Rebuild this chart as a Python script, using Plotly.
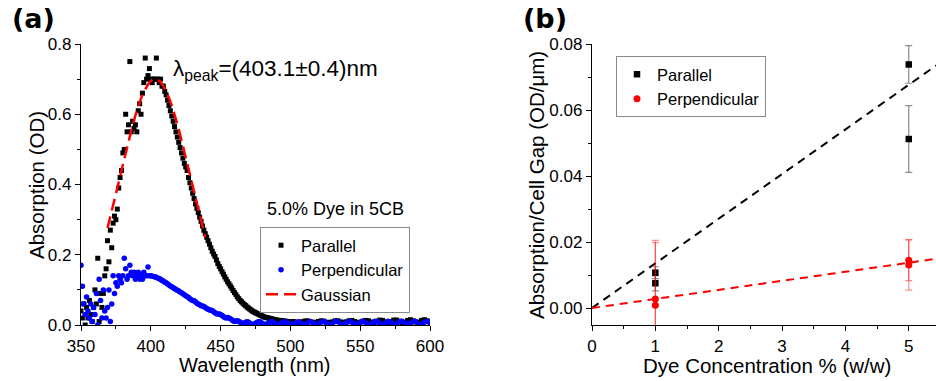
import plotly.graph_objects as go

# ---------------- Panel (a) data ----------------
wavelength = [350, 351, 352, 353, 354, 355, 356, 357, 358, 359, 360, 361, 362, 363, 364, 365, 366, 367, 368, 369,
              370, 371, 372, 373, 374, 375, 376, 377, 378, 379, 380, 381, 382, 383, 384, 385, 386, 387, 388, 389,
              390, 391, 392, 393, 394, 395, 396, 397, 398, 399, 400, 401, 402, 403, 404, 405, 406, 407, 408, 409,
              410, 411, 412, 413, 414, 415, 416, 417, 418, 419, 420, 421, 422, 423, 424, 425, 426, 427, 428, 429,
              430, 431, 432, 433, 434, 435, 436, 437, 438, 439, 440, 441, 442, 443, 444, 445, 446, 447, 448, 449,
              450, 451, 452, 453, 454, 455, 456, 457, 458, 459, 460, 461, 462, 463, 464, 465, 466, 467, 468, 469,
              470, 471, 472, 473, 474, 475, 476, 477, 478, 479, 480, 481, 482, 483, 484, 485, 486, 487, 488, 489,
              490, 491, 492, 493, 494, 495, 496, 497, 498, 499, 500,
              502, 504, 506, 508, 510, 512, 514, 516, 518, 520, 522, 524, 526, 528, 530, 532, 534, 536, 538, 540,
              542, 544, 546, 548, 550, 552, 554, 556, 558, 560, 562, 564, 566, 568, 570, 572, 574, 576, 578, 580,
              582, 584, 586, 588, 590, 592, 594, 596, 598, 600]

par_od = [0.04, 0.02, 0.06, 0.00, 0.05, 0.02, 0.07, 0.03, 0.01, 0.05, 0.10, 0.06, 0.19, 0.01, 0.09, 0.05, 0.09, 0.14, 0.16, 0.24,
          0.18, 0.27, 0.22, 0.29, 0.31, 0.30, 0.33, 0.39, 0.42, 0.44, 0.49, 0.50, 0.60, 0.55, 0.57, 0.75, 0.55, 0.58, 0.56, 0.57,
          0.55, 0.61, 0.63, 0.60, 0.66, 0.69, 0.76, 0.70, 0.71, 0.73, 0.70, 0.69, 0.70, 0.70, 0.76, 0.70, 0.69, 0.70, 0.68, 0.68,
          0.665, 0.655, 0.64, 0.625, 0.61, 0.595, 0.58, 0.565, 0.55, 0.535, 0.52, 0.505, 0.49, 0.475, 0.46, 0.45, 0.44, 0.42, 0.405, 0.39,
          0.375, 0.36, 0.345, 0.332, 0.32, 0.307, 0.295, 0.282, 0.27, 0.26, 0.25, 0.24, 0.23, 0.22, 0.21, 0.202, 0.195, 0.185, 0.175, 0.167,
          0.16, 0.152, 0.145, 0.137, 0.13, 0.123, 0.117, 0.111, 0.105, 0.098, 0.092, 0.086, 0.08, 0.075, 0.07, 0.066, 0.062, 0.058, 0.055, 0.051,
          0.048, 0.045, 0.042, 0.039, 0.037, 0.035, 0.033, 0.031, 0.029, 0.027, 0.025, 0.023, 0.022, 0.021, 0.020, 0.019, 0.018, 0.017, 0.016, 0.015,
          0.014, 0.0135, 0.013, 0.0125, 0.012, 0.0115, 0.011, 0.0105, 0.010, 0.0095, 0.009,
          0.010, 0.008, 0.007, 0.009, 0.011, 0.012, 0.010, 0.008, 0.007, 0.010, 0.012, 0.011, 0.008, 0.007, 0.009, 0.012, 0.012, 0.009, 0.007, 0.009,
          0.012, 0.013, 0.010, 0.007, 0.008, 0.011, 0.013, 0.012, 0.008, 0.007, 0.011, 0.014, 0.013, 0.009, 0.007, 0.010, 0.014, 0.014, 0.011, 0.007,
          0.008, 0.013, 0.015, 0.012, 0.008, 0.008, 0.013, 0.015, 0.012, 0.008]

perp_od = [0.17, 0.11, 0.06, 0.03, 0.08, 0.04, 0.02, 0.06, 0.01, 0.05, 0.03, 0.09, 0.00, 0.13, 0.07, 0.02, 0.10, 0.04, 0.02, 0.05,
           0.10, 0.01, 0.06, 0.14, 0.09, 0.12, 0.11, 0.14, 0.13, 0.12, 0.14, 0.19, 0.16, 0.13, 0.14, 0.17, 0.15, 0.14, 0.15, 0.13,
           0.14, 0.15, 0.13, 0.14, 0.13, 0.15, 0.14, 0.14, 0.165, 0.14, 0.14, 0.139, 0.138, 0.137, 0.136, 0.134, 0.132, 0.130, 0.127, 0.125,
           0.122, 0.120, 0.117, 0.114, 0.111, 0.109, 0.106, 0.104, 0.101, 0.099, 0.097, 0.094, 0.092, 0.089, 0.086, 0.083, 0.081, 0.078, 0.075, 0.072,
           0.070, 0.069, 0.066, 0.062, 0.060, 0.058, 0.055, 0.054, 0.053, 0.050, 0.047, 0.045, 0.043, 0.042, 0.041, 0.038, 0.035, 0.032, 0.031, 0.031,
           0.030, 0.027, 0.024, 0.021, 0.020, 0.021, 0.020, 0.018, 0.015, 0.012, 0.010, 0.011, 0.012, 0.011, 0.008, 0.005, 0.004, 0.006, 0.008, 0.009,
           0.008, 0.005, 0.002, 0.001, 0.002, 0.005, 0.007, 0.009, 0.009, 0.007, 0.004, 0.002, 0.001, 0.002, 0.005, 0.007, 0.009, 0.009, 0.007, 0.004,
           0.002, 0.001, 0.001, 0.004, 0.006, 0.008, 0.009, 0.008, 0.005, 0.002, 0.001,
           0.003, 0.008, 0.009, 0.004, 0.001, 0.005, 0.010, 0.007, 0.002, 0.002, 0.008, 0.010, 0.005, 0.001, 0.004, 0.010, 0.009, 0.003, 0.001, 0.006,
           0.011, 0.008, 0.002, 0.002, 0.008, 0.011, 0.006, 0.001, 0.004, 0.010, 0.010, 0.004, 0.001, 0.006, 0.011, 0.008, 0.002, 0.003, 0.009, 0.011,
           0.006, 0.001, 0.005, 0.011, 0.009, 0.003, 0.002, 0.008, 0.011, 0.007]

gauss_wl = [369, 371, 373, 375, 377, 379, 381, 383, 385, 387, 389, 391, 393, 395, 397, 399, 401, 403,
            405, 407, 409, 411, 413, 415, 417, 419, 421, 423, 425, 427, 429, 431, 433, 435, 437, 439]
gauss_od = [0.276, 0.307, 0.339, 0.372, 0.406, 0.440, 0.474, 0.507, 0.539, 0.569, 0.597, 0.623, 0.645, 0.664, 0.679, 0.691, 0.698, 0.700,
            0.698, 0.692, 0.681, 0.666, 0.647, 0.625, 0.600, 0.572, 0.542, 0.510, 0.477, 0.443, 0.409, 0.376, 0.342, 0.310, 0.279, 0.250]

# ---------------- Panel (b) data ----------------
conc_par = [1, 1, 5, 5]
abs_par = [0.0107, 0.0075, 0.0738, 0.0512]
err_par = [0.0018, 0.0023, 0.0057, 0.0101]
conc_perp = [1, 1, 5, 5]
abs_perp = [0.0027, 0.0008, 0.0145, 0.0130]
err_perp = [0.0178, 0.0190, 0.0062, 0.0076]
fit_conc = [0, 5.5]
fit_par = [0, 0.0744]
fit_perp = [0, 0.0151]

W, H = 936, 381
FONT = "Liberation Sans, Arial, sans-serif"


def px(x):
    return x / W


def py(y):
    return 1 - y / H


fig = go.Figure()

fig.add_trace(go.Scatter(x=wavelength, y=par_od, mode="markers", name="Parallel",
                         marker=dict(symbol="square", size=5, color="black"),
                         xaxis="x", yaxis="y", legend="legend"))
fig.add_trace(go.Scatter(x=wavelength, y=perp_od, mode="markers", name="Perpendicular",
                         marker=dict(symbol="circle", size=5.5, color="#0000FF"),
                         xaxis="x", yaxis="y", legend="legend"))
fig.add_trace(go.Scatter(x=gauss_wl, y=gauss_od, mode="lines", name="Gaussian",
                         line=dict(color="#FF0000", width=2.5, dash="12px,6px"),
                         xaxis="x", yaxis="y", legend="legend"))

fig.add_trace(go.Scatter(x=fit_conc, y=fit_par, mode="lines", showlegend=False,
                         line=dict(color="black", width=2, dash="8px,6px"),
                         xaxis="x2", yaxis="y2"))
fig.add_trace(go.Scatter(x=fit_conc, y=fit_perp, mode="lines", showlegend=False,
                         line=dict(color="#FF0000", width=2, dash="8px,6px"),
                         xaxis="x2", yaxis="y2"))
fig.add_trace(go.Scatter(x=conc_par, y=abs_par, mode="markers", name="Parallel",
                         marker=dict(symbol="square", size=6.5, color="black"),
                         error_y=dict(type="data", array=err_par, color="#8c8c8c", thickness=1.2, width=3.5),
                         xaxis="x2", yaxis="y2", legend="legend2"))
fig.add_trace(go.Scatter(x=conc_perp, y=abs_perp, mode="markers", name="Perpendicular",
                         marker=dict(symbol="circle", size=7, color="#FF0000"),
                         error_y=dict(type="data", array=err_perp, color="rgba(255,0,0,0.45)", thickness=1.2, width=3.5),
                         xaxis="x2", yaxis="y2", legend="legend2"))

axis_common = dict(showline=True, linecolor="black", linewidth=1.3, showgrid=False, zeroline=False,
                   ticks="outside", ticklen=5, tickwidth=1.2, tickcolor="black",
                   tickfont=dict(family=FONT, size=17, color="black"), automargin=False)

fig.update_layout(
    width=W, height=H,
    margin=dict(l=0, r=0, t=0, b=0),
    paper_bgcolor="white", plot_bgcolor="white",
    font=dict(family=FONT, color="black"),
    xaxis=dict(domain=[px(81), px(430)], range=[350, 600], dtick=50, anchor="y",
               minor=dict(dtick=25, ticks="outside", ticklen=3, tickcolor="black"), **axis_common),
    yaxis=dict(domain=[py(325), py(44)], range=[0, 0.8], dtick=0.2, tickformat=".1f", anchor="x",
               minor=dict(dtick=0.1, ticks="outside", ticklen=3, tickcolor="black"), **axis_common),
    xaxis2=dict(domain=[px(592), 1.0], range=[0, 5.43], dtick=1, anchor="y2",
                minor=dict(dtick=0.5, ticks="outside", ticklen=3, tickcolor="black"), **axis_common),
    yaxis2=dict(domain=[py(325), py(44)], range=[-0.00515, 0.08], dtick=0.02, tickformat=".2f", anchor="x2",
                minor=dict(dtick=0.01, ticks="outside", ticklen=3, tickcolor="black"), **axis_common),
    legend=dict(x=px(260), y=py(227), xanchor="left", yanchor="top",
                bordercolor="#8a8a8a", borderwidth=1, bgcolor="rgba(255,255,255,0)",
                font=dict(family=FONT, size=16.5), tracegroupgap=0),
    legend2=dict(x=px(616), y=py(56), xanchor="left", yanchor="top",
                 bordercolor="#8a8a8a", borderwidth=1, bgcolor="rgba(255,255,255,0)",
                 font=dict(family=FONT, size=16.5), tracegroupgap=0),
    showlegend=True,
)

ann = [
    dict(text="<b>(a)</b>", x=px(10), y=py(18), xanchor="left", yanchor="middle",
         font=dict(family="DejaVu Sans", size=27)),
    dict(text="<b>(b)</b>", x=px(521), y=py(18), xanchor="left", yanchor="middle",
         font=dict(family="DejaVu Sans", size=27)),
    dict(text="λ<sub>peak</sub>=(403.1±0.4)nm", x=px(171), y=py(70), xanchor="left", yanchor="middle",
         font=dict(family=FONT, size=22.5)),
    dict(text="5.0% Dye in 5CB", x=px(335), y=py(209), xanchor="center", yanchor="middle",
         font=dict(family=FONT, size=18)),
    dict(text="Wavelength (nm)", x=px(255), y=py(364.5), xanchor="center", yanchor="middle",
         font=dict(family=FONT, size=20)),
    dict(text="Absorption (OD)", x=px(37), y=py(185), xanchor="center", yanchor="middle", textangle=-90,
         font=dict(family=FONT, size=20.5)),
    dict(text="Dye Concentration % (w/w)", x=px(767), y=py(365), xanchor="center", yanchor="middle",
         font=dict(family=FONT, size=20.5)),
    dict(text="Absorption/Cell Gap (OD/μm)", x=px(537), y=py(185), xanchor="center", yanchor="middle",
         textangle=-90, font=dict(family=FONT, size=20.5)),
]
for a in ann:
    a.update(xref="paper", yref="paper", showarrow=False)
fig.update_layout(annotations=ann)

fig.write_html("out.html", config={"displayModeBar": False})
